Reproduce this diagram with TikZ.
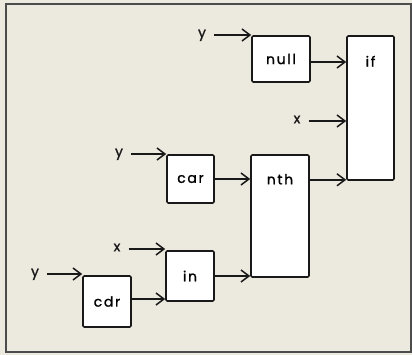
\documentclass[tikz,border=0pt]{standalone}
\usepackage{fontspec}
\newfontfamily\diagfont[LetterSpace=12, FakeBold=1.2]{Poppins}
\usetikzlibrary{arrows.meta}
\definecolor{paper}{RGB}{236,233,222}
\definecolor{ink}{RGB}{25,25,25}
\tikzset{
  box/.style = {draw = ink, line width = 1.6pt, fill = white, inner sep = 0pt, rounded corners = 1.2pt, font = \diagfont\fontsize{14}{16}\selectfont},
  inp/.style = {font = \diagfont\fontsize{14}{16}\selectfont, text = ink, inner sep = 2pt, text height = 1.1ex, text depth = 0ex},
  arr/.style = {-{Straight Barb[length = 8pt, width = 12pt, line width = 1.5pt]}, draw = ink, line width = 1.5pt}
}
\begin{document}
\begin{tikzpicture}[x = 1pt, y = -1pt]
\fill[paper] (0,0) rectangle (412,355);
\draw[gray!60!black, line width = 1.2pt] (6,4) rectangle (411,352);
\node (null) [box, minimum width = 58, minimum height = 46] at (281,59) {null};
\node (if) [box, minimum width = 47, minimum height = 144, label = {[font = \diagfont\fontsize{14}{16}\selectfont, anchor = center, yshift = -26pt]north:if}] at (370.5,108) {};
\node (nth) [box, minimum width = 58, minimum height = 122, label = {[font = \diagfont\fontsize{14}{16}\selectfont, anchor = center, yshift = -25pt]north:nth}] at (280,216) {};
\node (car) [box, minimum width = 47, minimum height = 48] at (190.5,179) {car};
\node (in) [box, minimum width = 48, minimum height = 50] at (190,276) {in};
\node (cdr) [box, minimum width = 48, minimum height = 51] at (107,301.5) {cdr};
\node (ynull) [inp] at (202,35) {y};
\node (xif) [inp] at (297,121) {x};
\node (ycar) [inp] at (119,154) {y};
\node (xin) [inp] at (117,249) {x};
\node (ycdr) [inp] at (35,274) {y};
% inputs
\draw[arr] ([xshift = 6pt]ynull.east) -- (ynull.east -| null.west);
\draw[arr] ([xshift = 6pt]xif.east) -- (xif.east -| if.west);
\draw[arr] ([xshift = 6pt]ycar.east) -- (ycar.east -| car.west);
\draw[arr] ([xshift = 6pt]xin.east) -- (xin.east -| in.west);
\draw[arr] ([xshift = 6pt]ycdr.east) -- (ycdr.east -| cdr.west);
% between boxes
\draw[arr] ([yshift = -3pt]null.east) -- ([yshift = -3pt]null.east -| if.west);
\draw[arr] (car.east) -- (car.east -| nth.west);
\draw[arr] (nth.east |- if.south) ++(0,-1) -- ([yshift = 1pt]if.south west);
\draw[arr] (in.east) -- (in.east -| nth.west);
\draw[arr] ([yshift = 2.5pt]cdr.east) -- ([yshift = 2.5pt]cdr.east -| in.west);
\end{tikzpicture}
\end{document}
